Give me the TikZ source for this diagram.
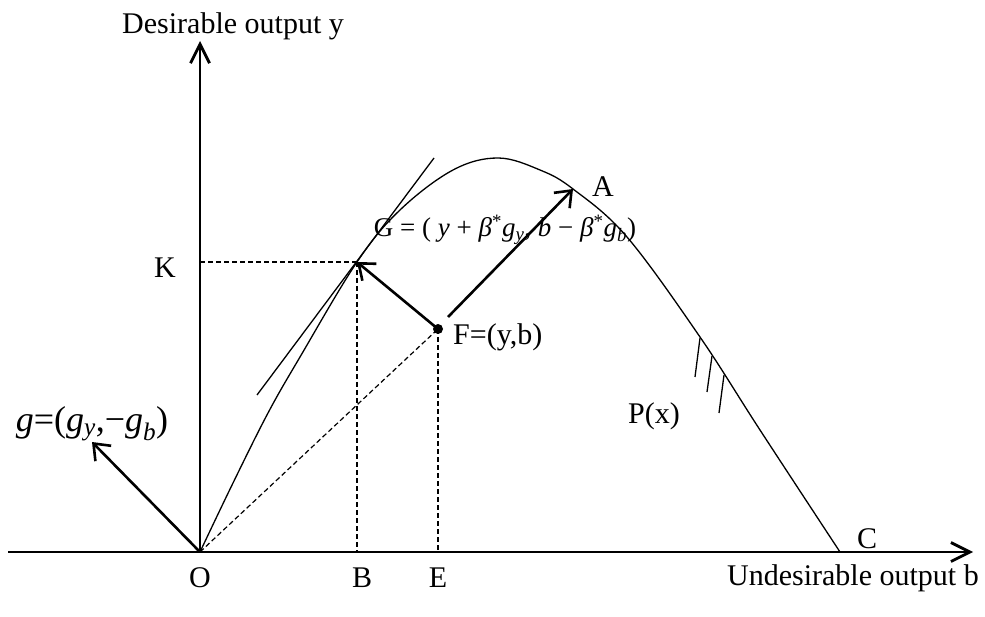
\documentclass[tikz,border=0pt]{standalone}
\usepackage{fontspec}
\setmainfont{Liberation Serif}
\usetikzlibrary{arrows.meta}
\begin{document}
\begin{tikzpicture}[x=1pt,y=-1pt,
  lbl/.style={font=\fontsize{30}{36}\selectfont, inner sep=0pt},
  axis/.style={line width=2.8pt, -{Straight Barb[length=19pt,width=19pt]}},
  vec/.style={line width=2.6pt, -{Straight Barb[length=14pt,width=22pt]}},
  guide/.style={line width=1.2pt, dash pattern=on 5pt off 3pt},
  thinline/.style={line width=1.3pt}]
\useasboundingbox (0,0) rectangle (985,617);
% coordinates
\coordinate (O) at (200,552);
\coordinate (Xs) at (8,552);
\coordinate (Xe) at (973,552);
\coordinate (Ye) at (200,41);
\coordinate (Kp) at (357,262);
\coordinate (K0) at (200,262);
\coordinate (B0) at (357,552);
\coordinate (F) at (438,329);
\coordinate (E0) at (438,552);
\coordinate (Fs) at (448,317);
\coordinate (A) at (573,189);
\coordinate (C) at (840,552);
\coordinate (gt) at (92,442);
\coordinate (T1) at (257,395);
\coordinate (T2) at (434,158);
% frontier curve
\draw[thinline] plot[smooth, tension=0.6] coordinates {(O) (233,483) (268,413) (300,357) (Kp) (400,210) (453,170) (498,158) (540,170) (A) (627,237) (700,337) (760,430) (C)};
% hatch
\draw[thinline] (700,338) -- (695,377);
\draw[thinline] (712,356) -- (707,392);
\draw[thinline] (724,375) -- (719,413);
% tangent
\draw[thinline] (T1) -- (T2);
% dashed guides
\draw[guide] (K0) -- (Kp);
\draw[guide] (Kp) -- (B0);
\draw[guide] (F) -- (E0);
\draw[guide] (O) -- (F);
% axes
\draw[axis] (Xs) -- (Xe);
\draw[axis] (O) -- (Ye);
% vectors
\draw[vec] (O) -- (gt);
\draw[vec] (F) -- (Kp);
\draw[vec] (Fs) -- (A);
\fill (F) circle (5pt);
% labels
\node[lbl, anchor=base west] (ylab) at (122,34) {Desirable output y};
\node[lbl, anchor=base east] (xlab) at (979,585) {Undesirable output b};
\node[lbl, anchor=base] (Olab) at (200,587) {O};
\node[lbl, anchor=base] (Blab) at (362,587) {B};
\node[lbl, anchor=base] (Elab) at (438,587) {E};
\node[lbl, anchor=base] (Clab) at (867,548) {C};
\node[lbl, anchor=base] (Klab) at (165,278) {K};
\node[lbl, anchor=base] (Alab) at (603,197) {A};
\node[lbl, anchor=base] (Plab) at (654,423) {P(x)};
\node[lbl, anchor=base west] (Flab) at (453,345) {F=(y,b)};
\node[inner sep=0pt, font=\fontsize{27}{32}\selectfont] (Glab) at (505,230)
  {G = ( \textit{y} + \textit{β}\textsuperscript{*}\textit{g}\textsubscript{\textit{y}}, \textit{b} − \textit{β}\textsuperscript{*}\textit{g}\textsubscript{\textit{b}})};
\node[inner sep=0pt, font=\fontsize{36}{42}\selectfont] (glab) at (92,424)
  {\textit{g}=(\textit{g}\textsubscript{\textit{y}},−\textit{g}\textsubscript{\textit{b}})};
\end{tikzpicture}
\end{document}
